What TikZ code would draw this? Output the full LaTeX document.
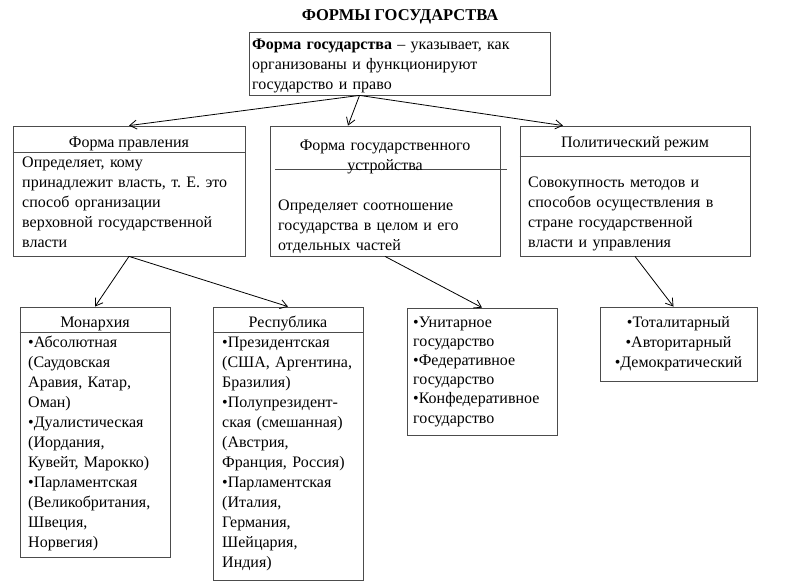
\documentclass[tikz,border=0pt]{standalone}
\usepackage{fontspec}
\setmainfont{Liberation Serif}
\usetikzlibrary{positioning,arrows.meta}

\begin{document}
\frenchspacing
\begin{tikzpicture}[
                x=1pt, y=-1pt,                 % пиксели, ось y вниз
                >={Straight Barb[length=7pt, width=9pt]},
                frame/.style={draw=black!70, line width=0.8pt, inner sep=0pt},
                txt/.style={
                    anchor=north west,
                    inner sep=0pt,
                    align=left,
                    text width=230pt,
                    font=\fontsize{16}{20}\selectfont,
                    execute at begin node=\strut
                },
                head/.style={inner sep=0pt, font=\fontsize{16}{20}\selectfont, execute at begin node=\strut},
                arrow/.style={->, line width=0.8pt}
            ]
                \useasboundingbox (0,0) rectangle (800,583);

                % заголовок
                \node[font=\fontsize{16.5}{18}\selectfont\bfseries] (title) at (400,17) {ФОРМЫ ГОСУДАРСТВА};

                % блоки
                \node[frame, minimum width=301, minimum height=63] (top) at (399.5,63.5) {};
                \node[frame, minimum width=232, minimum height=130] (form) at (129,191) {};
                \node[frame, minimum width=230, minimum height=130] (struct) at (385,191) {};
                \node[frame, minimum width=230, minimum height=130] (regime) at (635,191) {};
                \node[frame, minimum width=150, minimum height=250] (mon) at (95,432) {};
                \node[frame, minimum width=150, minimum height=273] (rep) at (288,443.5) {};
                \node[frame, minimum width=150, minimum height=127] (unit) at (482,371.5) {};
                \node[frame, minimum width=157, minimum height=74] (kinds) at (678.5,344) {};

                % линии под заголовками блоков
                \draw[frame] (form.west |- 0,152) -- (form.east |- 0,152);
                \draw[frame] (275,169) -- ([xshift=7]struct.east |- 0,169);
                \draw[frame] (regime.west |- 0,156) -- (regime.east |- 0,156);
                \draw[frame] (mon.west |- 0,332) -- (mon.east |- 0,332);
                \draw[frame] (rep.west |- 0,332) -- (rep.east |- 0,332);

                % тексты
                \node[txt, text width=295pt] (toptext) at (252,35.5) {{\bfseries Форма государства} – указывает, как\\организованы и функционируют\\государство и право};

                \node[head] (formhead) at (129,143) {Форма правления};
                \node[txt] (formtext) at (22,153.5) {Определяет, кому\\принадлежит власть, т. Е. это\\способ организации\\верховной государственной\\власти};

                \node[txt, anchor=north, align=center] (structhead) at (385,136.5) {Форма государственного\\устройства};
                \node[txt] (structtext) at (278,196.5) {Определяет соотношение\\государства в целом и его\\отдельных частей};

                \node[head] (regimehead) at (635,143) {Политический режим};
                \node[txt] (regimetext) at (528,173.5) {Совокупность методов и\\способов осуществления в\\стране государственной\\власти и управления};

                \node[head] (monhead) at (95,323) {Монархия};
                \node[txt] (montext) at (28,333.5) {•Абсолютная\\(Саудовская\\Аравия, Катар,\\Оман)\\•Дуалистическая\\(Иордания,\\Кувейт, Марокко)\\•Парламентская\\(Великобритания,\\Швеция,\\Норвегия)};

                \node[head] (rephead) at (288,323) {Республика};
                \node[txt] (reptext) at (222,333.5) {•Президентская\\(США, Аргентина,\\Бразилия)\\•Полупрезидент-\\ская (смешанная)\\(Австрия,\\Франция, Россия)\\•Парламентская\\(Италия,\\Германия,\\Шейцария,\\Индия)};

                \node[txt, font=\fontsize{16}{19.2}\selectfont] (unittext) at (413,313.5) {•Унитарное\\государство\\•Федеративное\\государство\\•Конфедеративное\\государство};

                \node[txt, anchor=north, align=center, text width=157pt] (kindstext) at (678.5,313.5) {•Тоталитарный\\•Авторитарный\\•Демократический};

                % стрелки
                \draw[arrow] ([xshift=-40]top.south) -- (form.north);
                \draw[arrow] ([xshift=-40]top.south) -- ([xshift=-37]struct.north);
                \draw[arrow] ([xshift=-40]top.south) -- ([xshift=-72]regime.north);
                \draw[arrow] (form.south) -- (mon.north);
                \draw[arrow] (form.south) -- (rep.north);
                \draw[arrow] (struct.south) -- (unit.north);
                \draw[arrow] (regime.south) -- ([xshift=-5]kinds.north);
            \end{tikzpicture}
\end{document}
